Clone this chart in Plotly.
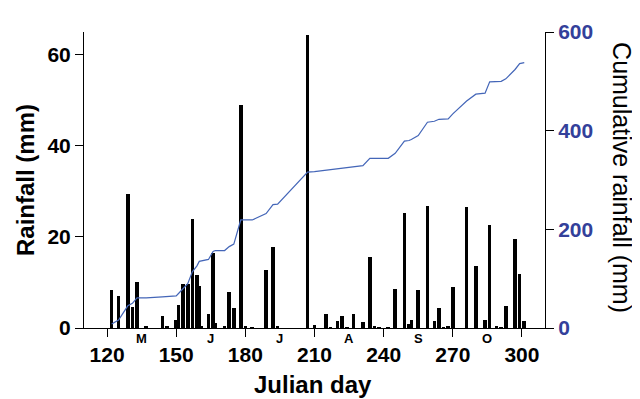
import plotly.graph_objects as go

# Julian day of each rain event and daily rainfall (mm)
days = [122, 125, 129, 131, 133, 137, 144, 146, 150, 151, 153, 155, 157, 159, 160, 161,
        164, 166, 167, 171, 173, 175, 178, 180, 183, 189, 192, 194, 207, 210, 215, 217,
        220, 222, 224, 227, 231, 234, 236, 238, 242, 245, 249, 251, 252, 255, 259, 262,
        264, 266, 268, 270, 276, 280, 284, 286, 289, 291, 293, 297, 299, 301]
rain = [8.4, 7.1, 29.4, 4.6, 10.1, 0.3, 2.7, 0.3, 1.7, 5.0, 9.7, 9.7, 23.9, 11.7, 9.2, 0.3,
        3.1, 16.5, 1.2, 0.3, 7.8, 4.5, 48.9, 0.3, 0.2, 12.7, 17.8, 0.3, 64.4, 0.6, 3.1, 0.2,
        1.5, 2.6, 0.2, 3.1, 1.3, 15.6, 0.3, 0.2, 0.1, 8.6, 25.2, 0.9, 1.7, 8.4, 26.8, 1.5,
        4.4, 0.2, 0.5, 9.1, 26.6, 13.7, 1.8, 22.7, 0.3, 0.2, 4.8, 19.5, 11.9, 1.5]
# Cumulative rainfall (mm)
cum_rain = [8, 16, 45, 50, 61, 61, 63, 64, 65, 70, 80, 90, 114, 126, 135, 136,
            139, 155, 157, 157, 165, 170, 219, 219, 219, 232, 250, 251, 316, 317, 320, 320,
            322, 324, 325, 327, 329, 344, 344, 344, 344, 354, 379, 380, 382, 390, 417, 419,
            423, 423.5, 424, 434, 460, 474, 476, 499, 499, 500, 505, 524, 536, 538]

x_ticks = [120, 150, 180, 210, 240, 270, 300]
y_ticks = [0, 20, 40, 60]
y2_ticks = [0, 200, 400, 600]
month_days = [135, 165, 195, 225, 255, 285]
month_labels = ["M", "J", "J", "A", "S", "O"]

FONT = "Liberation Sans"
BLUE_TXT = "#33409A"
BLUE_LINE = "#4466B8"

fig = go.Figure()
fig.add_trace(go.Bar(x=days, y=rain, width=1.55,
                     marker=dict(color="black", line=dict(width=0)),
                     yaxis="y", name="Rainfall"))
fig.add_trace(go.Scatter(x=days, y=cum_rain, mode="lines",
                         line=dict(color=BLUE_LINE, width=1.2),
                         yaxis="y2", name="Cumulative"))

axis_common = dict(showgrid=False, zeroline=False, showline=True, linecolor="black",
                   linewidth=1, ticks="outside", ticklen=8, tickwidth=1, tickcolor="black")

# page body has an 8px margin, so the figure is 8px smaller and offset
fig.update_layout(
    width=632, height=391,
    margin=dict(l=76, r=95, t=14, b=71),
    plot_bgcolor="white", paper_bgcolor="white",
    showlegend=False, bargap=0,
    xaxis=dict(range=[110, 310], tickvals=x_ticks, **axis_common,
               tickfont=dict(family=FONT, size=21, color="black", weight="bold")),
    yaxis=dict(range=[0, 65], tickvals=y_ticks, **axis_common,
               tickfont=dict(family=FONT, size=21, color="black", weight="bold")),
    yaxis2=dict(range=[0, 600], tickvals=y2_ticks, overlaying="y", side="right",
                **axis_common,
                tickfont=dict(family=FONT, size=21, color=BLUE_TXT, weight="bold")),
)

annotations = []
for d, m in zip(month_days, month_labels):
    annotations.append(dict(x=d, xref="x", y=-0.036, yref="paper", text=m, showarrow=False,
                            xanchor="center", yanchor="middle",
                            font=dict(family=FONT, size=13, color="black", weight="bold")))
annotations.append(dict(x=0.4957, xref="paper", y=-0.19, yref="paper", text="Julian day",
                        showarrow=False, xanchor="center", yanchor="middle",
                        font=dict(family=FONT, size=24, color="black", weight="bold")))
annotations.append(dict(x=-0.128, xref="paper", y=0.5, yref="paper", text="Rainfall (mm)",
                        textangle=-90, showarrow=False, xanchor="center", yanchor="middle",
                        font=dict(family=FONT, size=24, color="black", weight="bold")))
annotations.append(dict(x=1.167, xref="paper", y=0.5065, yref="paper",
                        text="Cumulative rainfall (mm)",
                        textangle=90, showarrow=False, xanchor="center", yanchor="middle",
                        font=dict(family=FONT, size=25, color="black")))
fig.update_layout(annotations=annotations)

fig.write_html("out.html")
